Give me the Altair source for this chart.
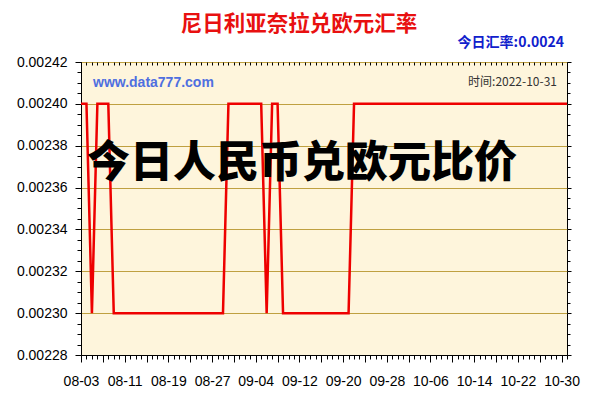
import altair as alt
import pandas as pd

# ---- data ----
dates = ["2022-08-03", "2022-08-04", "2022-08-05", "2022-08-06", "2022-08-07", "2022-08-08",
         "2022-08-09", "2022-08-29", "2022-08-30", "2022-09-05", "2022-09-06", "2022-09-07",
         "2022-09-08", "2022-09-09", "2022-09-21", "2022-09-22", "2022-10-31"]
rates = [0.0024, 0.0024, 0.0023, 0.0024, 0.0024, 0.0024,
         0.0023, 0.0023, 0.0024, 0.0024, 0.0023, 0.0024,
         0.0024, 0.0023, 0.0023, 0.0024, 0.0024]

title_text = "尼日利亚奈拉兑欧元汇率"
today_rate_text = "今日汇率:0.0024"
site_text = "www.data777.com"
time_text = "时间:2022-10-31"
overlay_text = "今日人民币兑欧元比价"

y_min, y_max = 0.00228, 0.00242

df = pd.DataFrame({"date": dates, "rate": rates})

DAY = 86400000
start_ms = int(pd.Timestamp(dates[0], tz="UTC").value // 10**6)
end_ms = int(pd.Timestamp(dates[-1], tz="UTC").value // 10**6)
n_days = (end_ms - start_ms) // DAY
x_tick_vals = [start_ms + i * DAY for i in range(n_days + 1)]
y_tick_vals = [round(y_min + i * 0.000005, 6) for i in range(29)]

x_major = f"round((datum.value - {start_ms})/{DAY}) % 4 == 0"
x_label = f"round((datum.value - {start_ms})/{DAY}) % 8 == 0"
y_major = "round(datum.value*1000000) % 20 == 0"

W, H = 486, 293
FONT = "Liberation Sans"
CJK = "Noto Sans CJK SC"

x_scale = alt.Scale(type="utc", domain=[start_ms, end_ms])
y_scale = alt.Scale(domain=[y_min, y_max], nice=False, zero=False)

line = alt.Chart(df).mark_line(color="#EE0000", strokeWidth=2.5, clip=True).encode(
    x=alt.X("date:T", scale=x_scale, title=None,
            axis=alt.Axis(values=x_tick_vals, orient="bottom",
                          labelExpr=f"{x_label} ? utcFormat(datum.value, '%m-%d') : ''",
                          labelOverlap=False, labelFlush=False, labelFont=FONT, labelFontSize=14,
                          labelColor="#000000", labelPadding=12,
                          tickColor="#000000", domainColor="#000000",
                          tickSize={"condition": {"test": x_major, "value": 7}, "value": 4},
                          grid=False)),
    y=alt.Y("rate:Q", scale=y_scale, title=None,
            axis=alt.Axis(values=y_tick_vals, orient="left",
                          labelExpr=f"{y_major} ? format(datum.value, '.5f') : ''",
                          labelOverlap=False, labelFlush=False, labelFont=FONT, labelFontSize=14,
                          labelColor="#000000", labelPadding=8,
                          tickColor="#000000", domainColor="#000000",
                          tickSize={"condition": {"test": y_major, "value": 6}, "value": 4},
                          grid=True, gridColor="#BFA040", gridWidth=1,
                          gridOpacity={"condition": {"test": y_major, "value": 1}, "value": 0})),
)

frame_ticks = alt.Chart(df).mark_point(opacity=0).encode(
    x=alt.X("date:T", scale=x_scale, title=None,
            axis=alt.Axis(values=x_tick_vals, orient="top", offset=-3, labels=False,
                          domain=False, grid=False, tickSize=3, tickColor="#000000")),
    y=alt.Y("rate:Q", scale=y_scale, title=None,
            axis=alt.Axis(values=y_tick_vals, orient="right", labels=False,
                          domain=False, grid=False, tickColor="#000000",
                          tickSize={"condition": {"test": y_major, "value": 4}, "value": 3})),
)

one = pd.DataFrame({"t": [0]})

title = alt.Chart(one).mark_text(text=title_text, font=CJK, fontSize=21.5, fontWeight="bold",
                                 color="#E81010", align="center", baseline="middle").encode(
    x=alt.value(218), y=alt.value(-37))
today = alt.Chart(one).mark_text(text=today_rate_text, font=CJK, fontSize=14, fontWeight="bold",
                                 color="#1020CC", align="right", baseline="middle").encode(
    x=alt.value(483), y=alt.value(-19.5))
site = alt.Chart(one).mark_text(text=site_text, font=FONT, fontSize=14, fontWeight="bold",
                                color="#4F6FE0", align="left", baseline="middle").encode(
    x=alt.value(12), y=alt.value(21))
timet = alt.Chart(one).mark_text(text=time_text, font=CJK, fontSize=12,
                                 color="#333333", align="right", baseline="middle").encode(
    x=alt.value(476), y=alt.value(20))
overlay = alt.Chart(one).mark_text(text=overlay_text, font=CJK, fontSize=43, fontWeight=900,
                                   color="#000000", align="center", baseline="middle").encode(
    x=alt.value(221), y=alt.value(102))

chart = alt.layer(line, frame_ticks, site, timet, overlay, title, today).resolve_axis(
    x="independent", y="independent"
).properties(
    width=W, height=H,
    autosize=alt.AutoSizeParams(type="none"),
    padding={"left": 73, "top": 54, "right": 25, "bottom": 37},
    background="#FFFFFF",
).configure_view(
    fill="#FEF5DC", stroke="#000000", strokeWidth=1
)

chart.save("out.html", embed_options={"renderer": "svg", "actions": False})
